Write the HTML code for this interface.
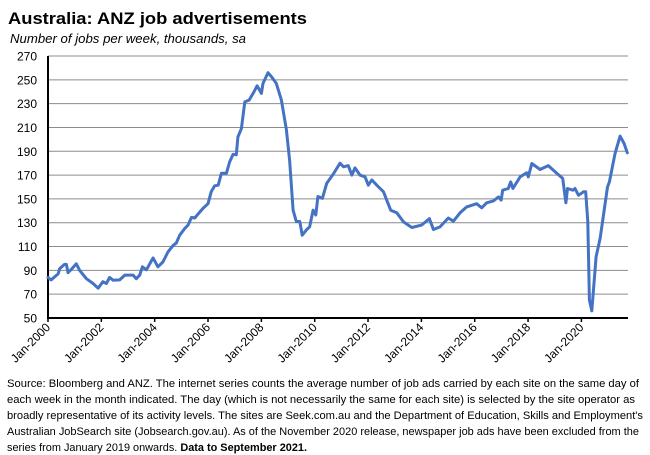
<!DOCTYPE html>
<html><head><meta charset="utf-8"><style>
html,body{margin:0;padding:0;background:#fff;}
svg{display:block;font-family:"Liberation Sans",Arial,sans-serif;}
</style></head><body>
<svg id="chart" width="650" height="455" viewBox="0 0 650 455" xmlns="http://www.w3.org/2000/svg">
<text x="8" y="24" font-size="17" font-weight="bold" textLength="299" lengthAdjust="spacingAndGlyphs">Australia: ANZ job advertisements</text>
<text x="10" y="43" font-size="13" font-style="italic" textLength="236" lengthAdjust="spacingAndGlyphs">Number of jobs per week, thousands, sa</text>
<g id="grid"></g><g id="yticks"></g><g id="xticks"></g><g id="series"></g>
<g font-size="11" fill="#000">
<text x="7" y="387" textLength="632" lengthAdjust="spacingAndGlyphs">Source: Bloomberg and ANZ.  The internet series counts the average number of job ads carried by each site on the same day of</text>
<text x="7" y="403" textLength="628" lengthAdjust="spacingAndGlyphs">each week in the month indicated. The day (which is not necessarily the same for each site) is selected by the site operator as</text>
<text x="7" y="419" textLength="636" lengthAdjust="spacingAndGlyphs">broadly representative of its activity levels. The sites are Seek.com.au and the Department of Education, Skills and Employment's</text>
<text x="7" y="435" textLength="632" lengthAdjust="spacingAndGlyphs">Australian JobSearch site (Jobsearch.gov.au). As of the November 2020 release, newspaper job ads have been excluded from the</text>
<text x="7" y="451" textLength="300" lengthAdjust="spacingAndGlyphs">series from January 2019 onwards.  <tspan font-weight="bold">Data to September 2021.</tspan></text>
</g>
</svg>
<script>
const dates=[2000.0,2000.12,2000.38,2000.44,2000.62,2000.69,2000.75,2000.88,2001.06,2001.19,2001.44,2001.69,2001.88,2002.06,2002.19,2002.31,2002.44,2002.69,2002.88,2003.19,2003.31,2003.44,2003.54,2003.69,2003.94,2004.12,2004.31,2004.5,2004.69,2004.81,2004.94,2005.12,2005.25,2005.38,2005.5,2005.69,2005.81,2006.0,2006.12,2006.25,2006.38,2006.5,2006.69,2006.81,2006.94,2007.06,2007.12,2007.25,2007.38,2007.54,2007.69,2007.84,2008.0,2008.06,2008.25,2008.38,2008.56,2008.75,2008.94,2009.06,2009.19,2009.31,2009.44,2009.53,2009.69,2009.81,2009.94,2010.04,2010.12,2010.29,2010.45,2010.7,2010.95,2011.08,2011.26,2011.39,2011.51,2011.7,2011.89,2012.01,2012.14,2012.33,2012.58,2012.7,2012.85,2013.08,2013.33,2013.64,2014.01,2014.3,2014.45,2014.7,2015.01,2015.2,2015.45,2015.7,2016.07,2016.26,2016.45,2016.7,2016.89,2016.99,2017.05,2017.26,2017.35,2017.43,2017.7,2017.95,2018.01,2018.14,2018.45,2018.76,2019.08,2019.3,2019.42,2019.48,2019.68,2019.76,2019.89,2020.08,2020.16,2020.24,2020.3,2020.39,2020.55,2020.7,2020.98,2021.05,2021.26,2021.45,2021.6,2021.72];
const jobAds=[84,82,87,91.5,95,95,88,91,95.5,90,83,79,75,80.5,79,84,81.7,82,86,86,83,86,93,90.5,100.5,93,97,105.5,111,113,119.5,125,128,134.5,134,139,142,146,156,161,161.5,171.5,171.5,181,187.5,187,202,209,231.5,233,238.6,245,238.6,247,256,252.6,247,233,208,182.5,140.5,131,131,119.5,124,126.5,140.5,136.5,152,150.5,163,171,180,177,178,170,176,170,168.5,161.5,166,161.5,156,149,140.5,138.3,130.7,126,128,133.5,124.3,126.5,134,131.3,138.3,143.3,146,142.5,146.7,148.3,151.7,149,157.3,158.7,164.3,158.7,168.5,171.9,168.5,179.7,174.7,178,171.4,167.2,146.7,158.7,157.3,158.7,153,156,156,130.8,65,56,101.5,116.7,160,164.3,188,202.7,196.5,188.7];
const yTickLabels=[50,70,90,110,130,150,170,190,210,230,250,270];
const xTickYears=[2000,2002,2004,2006,2008,2010,2012,2014,2016,2018,2020];
const NS="http://www.w3.org/2000/svg";
const X0=48,X1=628,Y0=318,Y1=56;
const xs=d=>X0+(d-2000)*26.67;
const ys=v=>Y0-(v-50)/220*(Y0-Y1);
function mk(tag,attrs,parent){const e=document.createElementNS(NS,tag);for(const k in attrs)e.setAttribute(k,attrs[k]);parent.appendChild(e);return e;}
const grid=document.getElementById('grid'),yt=document.getElementById('yticks'),xt=document.getElementById('xticks'),se=document.getElementById('series');
yTickLabels.forEach(v=>{
  if(v>50){const g=mk('line',{x1:X0,x2:X1,y1:ys(v),y2:ys(v),stroke:'#8c8c8c','stroke-width':1},grid);
  
  }
  const t=mk('text',{x:37,y:ys(v)+4.5,'text-anchor':'end','font-size':12},yt);
  t.textContent=v;
  
  
});
xTickYears.forEach(yr=>{
  const x=xs(yr);
  const tk=mk('line',{x1:x,x2:x,y1:Y0,y2:Y0+4,stroke:'#000','stroke-width':1.5},xt);
  
  
  const t=mk('text',{x:x+3,y:Y0+10,'text-anchor':'end','font-size':12,transform:'rotate(-45 '+(x+3)+' '+(Y0+10)+')'},xt);
  t.textContent='Jan-'+yr;
  
  
});
const ax=mk('line',{x1:X0,x2:X1,y1:Y0,y2:Y0,stroke:'#000','stroke-width':2},xt);


const ay=mk('line',{x1:X0,x2:X0,y1:Y1,y2:Y0+1,stroke:'#000','stroke-width':2},yt);


const pts=dates.map((d,i)=>xs(d).toFixed(1)+','+ys(jobAds[i]).toFixed(1)).join(' ');
const line=mk('polyline',{points:pts,fill:'none',stroke:'#4472C4','stroke-width':3,'stroke-linejoin':'round','stroke-linecap':'round'},se);


</script>
</body></html>
